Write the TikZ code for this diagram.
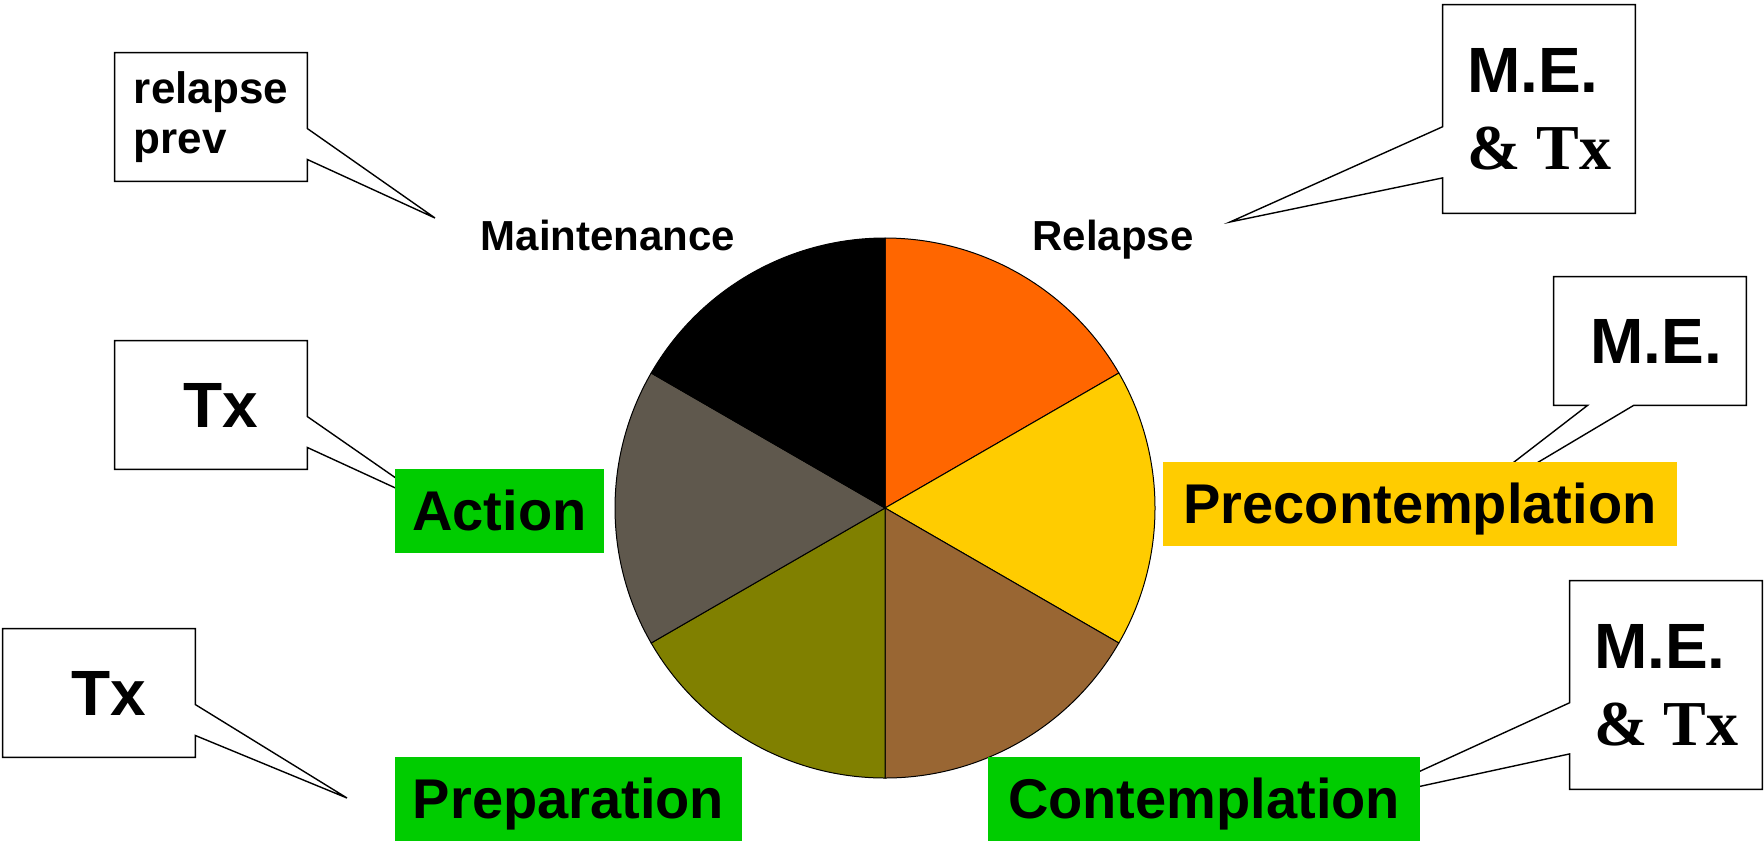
\documentclass[tikz,border=0pt]{standalone}
\usepackage{fontspec}
\setmainfont{Liberation Sans}
\newfontfamily\serifbf{Liberation Serif}
\usetikzlibrary{calc}

\definecolor{stagegreen}{HTML}{00CC00}
\definecolor{preyellow}{HTML}{FFCC00}
\definecolor{pieorange}{HTML}{FF6600}
\definecolor{pieyellow}{HTML}{FFCC00}
\definecolor{piebrown}{HTML}{996633}
\definecolor{pieolive}{HTML}{808000}
\definecolor{piegrey}{HTML}{5F584D}

\begin{document}
\begin{tikzpicture}[x=0.5pt,y=-0.5pt,
    stage box/.style={inner sep=0pt,minimum height=42pt,text height=26.6pt,text depth=7pt,
                      font=\fontsize{28}{33}\selectfont\bfseries},
    phase label/.style={inner sep=0pt,font=\fontsize{21}{25}\selectfont\bfseries},
    note box/.style={inner sep=0pt,minimum width=96pt,minimum height=64pt,
                     font=\fontsize{32}{38.5}\selectfont\bfseries},
    tall note/.style={note box,minimum height=104pt},
    small note/.style={note box,font=\fontsize{22}{25}\selectfont\bfseries},
    note line/.style={draw,line width=0.7pt,line join=miter},
    pie slice/.style={draw,line width=0.5pt}]
\useasboundingbox (0,0) rectangle (1764,841);

% the wheel of change
\coordinate (hub) at (885,508);
\begin{scope}[shift={(hub)},yscale=-1]
\foreach \a/\c in {90/pieorange,30/pieyellow,-30/piebrown,-90/pieolive,-150/piegrey,150/black}
  \filldraw[pie slice,fill=\c] (0,0) -- (\a:270) arc[start angle=\a,end angle=\a-60,radius=270] -- cycle;
\end{scope}

\node[phase label,anchor=base] (maint) at (608,250) {Maintenance};
\node[phase label,anchor=base] (relapse) at (1113,250) {Relapse};

% callouts
\node[small note,align=left] (prevbox) at (211,117) {relapse\\prev};
\node[note box] (txact) at (211,405) {\hspace*{10pt}Tx};
\node[note box] (txprep) at (99,693) {\hspace*{10pt}Tx};
\node[tall note,align=left] (metop) at (1539,109) {M.E.\\{\serifbf\& Tx}};
\node[note box] (me) at (1650,341) {\hspace*{6pt}M.E.};
\node[tall note,align=left] (mebottom) at (1666,685) {M.E.\\{\serifbf\& Tx}};

\coordinate (prevbox-tip) at (435,218);
\coordinate (txact-tip) at (439,508);
\coordinate (txprep-tip) at (347,798);
\coordinate (metop-tip) at (1230,222);
\coordinate (me-tip) at (1431,526);
\coordinate (mebottom-tip) at (1357,800);

\foreach \n in {prevbox,txact,txprep}
  \draw[note line] (\n.north west) -- (\n.north east)
    -- ($(\n.north east)!0.59!(\n.south east)$) -- (\n-tip)
    -- ($(\n.north east)!0.83!(\n.south east)$) -- (\n.south east) -- (\n.south west) -- cycle;
\foreach \n in {metop,mebottom}
  \draw[note line] (\n.north east) -- (\n.north west)
    -- ($(\n.north west)!0.585!(\n.south west)$) -- (\n-tip)
    -- ($(\n.north west)!0.83!(\n.south west)$) -- (\n.south west) -- (\n.south east) -- cycle;
\draw[note line] (me.north west) -- (me.north east) -- (me.south east)
    -- ($(me.south west)!0.415!(me.south east)$) -- (me-tip)
    -- ($(me.south west)!0.176!(me.south east)$) -- (me.south west) -- cycle;

% stages
\node[stage box,fill=stagegreen,minimum width=104.5pt] (action) at (499.5,511) {Action};
\node[stage box,fill=preyellow,minimum width=257pt] (precon) at (1420,504) {Precontemplation};
\node[stage box,fill=stagegreen,minimum width=173.5pt] (prep) at (568.5,799) {Preparation};
\node[stage box,fill=stagegreen,minimum width=216pt] (contemp) at (1204,799) {Contemplation};
\end{tikzpicture}
\end{document}
